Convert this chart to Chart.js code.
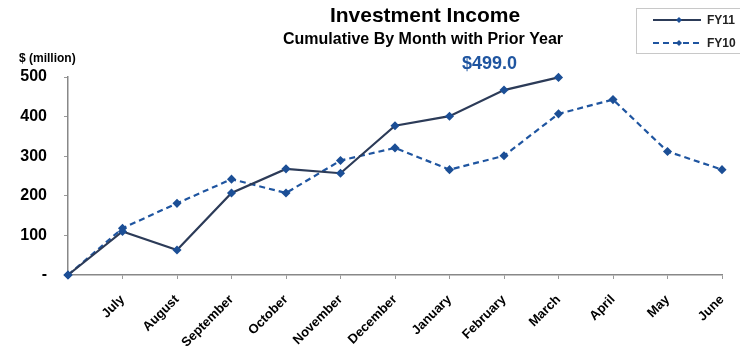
<!DOCTYPE html>
<html>
<head>
<meta charset="utf-8">
<title>Investment Income</title>
<script src="https://cdn.jsdelivr.net/npm/chart.js@4/dist/chart.umd.min.js"></script>
<style>
    html, body { margin: 0; padding: 0; background: #fff; }
    #wrap { width: 740px; height: 356px; position: relative; }
</style>
</head>
<body>
<div id="wrap"><canvas id="incomeChart"></canvas></div>
<script>
// months of the fiscal year, first slot is the zero starting point
const months = ['', 'July', 'August', 'September', 'October', 'November', 'December',
    'January', 'February', 'March', 'April', 'May', 'June'];

// cumulative investment income, $ million
const fy11 = [0, 110, 63, 207, 268, 257, 377, 401, 467, 499, null, null, null];
const fy10 = [0, 118, 181, 242, 207, 289, 321, 266, 301, 407, 443, 312, 266];

const yTicks = [0, 100, 200, 300, 400, 500];

const navy = '#2c3b58';
const blue = '#1f55a0';
const pointBlue = '#1c4f96';
const font = '"Liberation Sans", Arial, sans-serif';

// titles, unit label, value callout and the boxed legend
const extras = {
    id: 'extras',
    afterDraw(chart) {
        const ctx = chart.ctx;
        const x = chart.scales.x;
        const y = chart.scales.y;
        ctx.save();
        ctx.fillStyle = '#000';
        ctx.textAlign = 'center';
        ctx.textBaseline = 'middle';
        ctx.font = 'bold 21px ' + font;
        ctx.fillText('Investment Income', 425, 16);
        ctx.font = 'bold 16px ' + font;
        ctx.fillText('Cumulative By Month with Prior Year', 423, 40);

        ctx.textAlign = 'left';
        ctx.font = 'bold 12px ' + font;
        ctx.fillText('$ (million)', 19, 59);

        // callout for the latest FY11 value
        const last = fy11.filter(v => v !== null).length - 1;
        ctx.textAlign = 'center';
        ctx.fillStyle = blue;
        ctx.font = 'bold 18px ' + font;
        ctx.fillText('$' + fy11[last].toFixed(1), x.getPixelForValue(last) - 69, y.getPixelForValue(fy11[last]) - 13);

        // legend
        ctx.strokeStyle = '#c8c8c8';
        ctx.lineWidth = 1;
        ctx.strokeRect(636.5, 8.5, 110, 45);
        chart.data.datasets.forEach((ds, i) => {
            const ly = 20 + i * 23;
            ctx.strokeStyle = ds.borderColor;
            ctx.lineWidth = 2;
            ctx.setLineDash(ds.borderDash || []);
            ctx.beginPath();
            ctx.moveTo(653, ly);
            ctx.lineTo(701, ly);
            ctx.stroke();
            ctx.setLineDash([]);
            ctx.fillStyle = pointBlue;
            ctx.beginPath();
            ctx.moveTo(679, ly - 3);
            ctx.lineTo(682, ly);
            ctx.lineTo(679, ly + 3);
            ctx.lineTo(676, ly);
            ctx.closePath();
            ctx.fill();
            ctx.fillStyle = '#222';
            ctx.textAlign = 'left';
            ctx.font = 'bold 12px ' + font;
            ctx.fillText(ds.label, 707, ly + 1);
        });
        ctx.restore();
    }
};

new Chart(document.getElementById('incomeChart'), {
    type: 'line',
    data: {
        labels: months,
        datasets: [{
            label: 'FY11',
            data: fy11,
            borderColor: navy,
            borderWidth: 2.2,
            pointStyle: 'rectRot',
            pointRadius: 3,
            pointBackgroundColor: pointBlue,
            pointBorderColor: pointBlue,
            tension: 0,
            clip: false,
            spanGaps: false
        }, {
            label: 'FY10',
            data: fy10,
            borderColor: blue,
            borderWidth: 2.2,
            borderDash: [6, 4],
            pointStyle: 'rectRot',
            pointRadius: 3,
            pointBackgroundColor: pointBlue,
            pointBorderColor: pointBlue,
            tension: 0,
            clip: false
        }]
    },
    options: {
        responsive: true,
        maintainAspectRatio: false,
        animation: false,
        layout: { padding: { top: 77, right: 18, left: 0, bottom: 0 } },
        scales: {
            x: {
                offset: false,
                grid: { display: true, drawOnChartArea: false, tickLength: 4, color: '#999' },
                border: { color: '#888', width: 1.5 },
                ticks: {
                    autoSkip: false,
                    minRotation: 45,
                    maxRotation: 45,
                    padding: 13,
                    color: '#000',
                    font: { family: font, size: 13, weight: 'bold' }
                },
                afterFit: scale => {
                    scale.height = 81;
                    scale.paddingLeft = 0;
                    scale.paddingRight = 0;
                }
            },
            y: {
                min: 0,
                max: 500,
                afterBuildTicks: scale => { scale.ticks = yTicks.map(v => ({ value: v })); },
                grid: { display: true, drawOnChartArea: false, tickLength: 4, color: '#999' },
                border: { color: '#888', width: 1.5 },
                ticks: {
                    padding: 17,
                    color: '#000',
                    font: { family: font, size: 16, weight: 'bold' },
                    callback: v => v === 0 ? '-' : v
                },
                afterFit: scale => { scale.width = 68; }
            }
        },
        plugins: {
            legend: { display: false },
            title: { display: false },
            tooltip: { enabled: false }
        }
    },
    plugins: [extras]
});
</script>
</body>
</html>
